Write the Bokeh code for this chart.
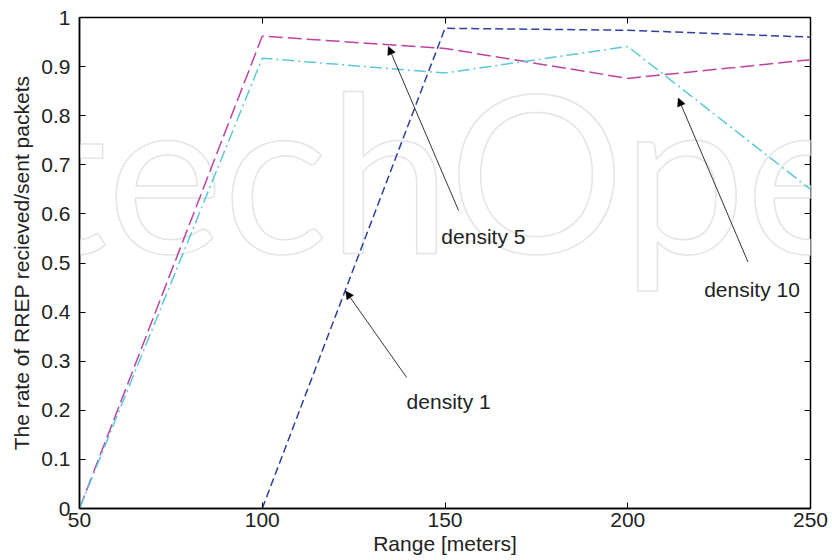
from bokeh.plotting import figure
from bokeh.models import (Range1d, FixedTicker, LinearAxis, Arrow, NormalHead,
                          Label, CustomJSTickFormatter)
from bokeh.embed import file_html
from bokeh.resources import INLINE

# Range in meters
ranges = [50, 100, 150, 200, 250]

# Rate of RREP received / sent packets for each node density
density_1_x = [100, 150, 200, 250]
density_1 = [0.0, 0.978, 0.974, 0.960]
density_5 = [0.0, 0.962, 0.937, 0.876, 0.914]
density_10 = [0.0, 0.917, 0.887, 0.941, 0.650]

x_ticks = [50, 100, 150, 200, 250]
y_ticks = [0, 0.1, 0.2, 0.3, 0.4, 0.5, 0.6, 0.7, 0.8, 0.9, 1]
y_tick_labels = ["0", "0.1", "0.2", "0.3", "0.4", "0.5", "0.6", "0.7", "0.8", "0.9", "1"]

# Curve annotations: (label, label x, label baseline y, arrow tail x, tail y, tip x, tip y)
notes = [
    ("density 5", 149.0, 0.553, 153.7, 0.607, 134.5, 0.941),
    ("density 1", 139.5, 0.217, 139.5, 0.267, 122.8, 0.443),
    ("density 10", 220.9, 0.447, 232.9, 0.502, 213.8, 0.836),
]

FONT = "Liberation Sans"
TEXT = "#222222"
FS = "21px"

p = figure(width=832, height=560, output_backend="svg", toolbar_location=None,
           x_range=Range1d(50, 250), y_range=Range1d(0, 1),
           min_border_left=79, min_border_right=22, min_border_top=17,
           min_border_bottom=52, x_axis_label="Range [meters]",
           y_axis_label="The rate of RREP recieved/sent packets")

p.background_fill_color = "white"
p.border_fill_color = "white"
p.grid.visible = False
p.outline_line_color = "black"
p.outline_line_width = 1.5

# faint outlined watermark behind the curves
p.add_layout(Label(x=-13.5, y=0.694, text="IntechOpen", text_font="Lato",
                   text_font_size="220px", text_color="white",
                   text_outline_color="#e4e4e4",
                   text_baseline="alphabetic", text_align="left",
                   level="underlay"))

y_labels = {t: s for t, s in zip(y_ticks, y_tick_labels)}

for ax in (p.xaxis[0], p.yaxis[0]):
    ax.axis_line_width = 1.5
    ax.axis_line_color = "black"
    ax.major_tick_in = 6
    ax.major_tick_out = 0
    ax.major_tick_line_color = "black"
    ax.minor_tick_line_color = None
    ax.major_label_text_font = FONT
    ax.major_label_text_font_size = FS
    ax.major_label_text_color = TEXT
    ax.axis_label_text_font = FONT
    ax.axis_label_text_font_size = FS
    ax.axis_label_text_font_style = "normal"
    ax.axis_label_text_color = TEXT

p.xaxis[0].ticker = FixedTicker(ticks=x_ticks)
p.yaxis[0].ticker = FixedTicker(ticks=y_ticks)
p.yaxis[0].major_label_overrides = y_labels
p.xaxis[0].major_label_standoff = 4
p.xaxis[0].axis_label_standoff = 2
p.yaxis[0].major_label_standoff = 9
p.yaxis[0].axis_label_standoff = 5

# mirrored inward ticks on the top and right edges
blank = CustomJSTickFormatter(code="return ''")
top = LinearAxis(ticker=FixedTicker(ticks=x_ticks), formatter=blank,
                 axis_line_color=None, major_tick_in=6, major_tick_out=0,
                 minor_tick_line_color=None, major_label_text_font_size="0px",
                 major_label_standoff=0)
right = LinearAxis(ticker=FixedTicker(ticks=y_ticks), formatter=blank,
                   axis_line_color=None, major_tick_in=6, major_tick_out=0,
                   minor_tick_line_color=None, major_label_text_font_size="0px",
                   major_label_standoff=0)
p.add_layout(top, "above")
p.add_layout(right, "right")

p.line(density_1_x, density_1, line_color="#2e3f9f", line_width=1.5,
       line_dash="8 4")
p.line(ranges, density_5, line_color="#bf42a3", line_width=1.5,
       line_dash="14 5")
p.line(ranges, density_10, line_color="#5ac8dc", line_width=1.5,
       line_dash="12 4 2 4")

for text, lx, ly, tx, ty, hx, hy in notes:
    p.add_layout(Arrow(x_start=tx, y_start=ty, x_end=hx, y_end=hy,
                       line_color="black", line_width=0.8,
                       end=NormalHead(size=8, fill_color="black",
                                      line_color="black", line_width=0.5)))
    p.add_layout(Label(x=lx, y=ly, text=text, text_font=FONT,
                       text_font_size=FS, text_color=TEXT,
                       text_baseline="alphabetic", text_align="left"))

open("out.html", "w").write(file_html(p, INLINE))
